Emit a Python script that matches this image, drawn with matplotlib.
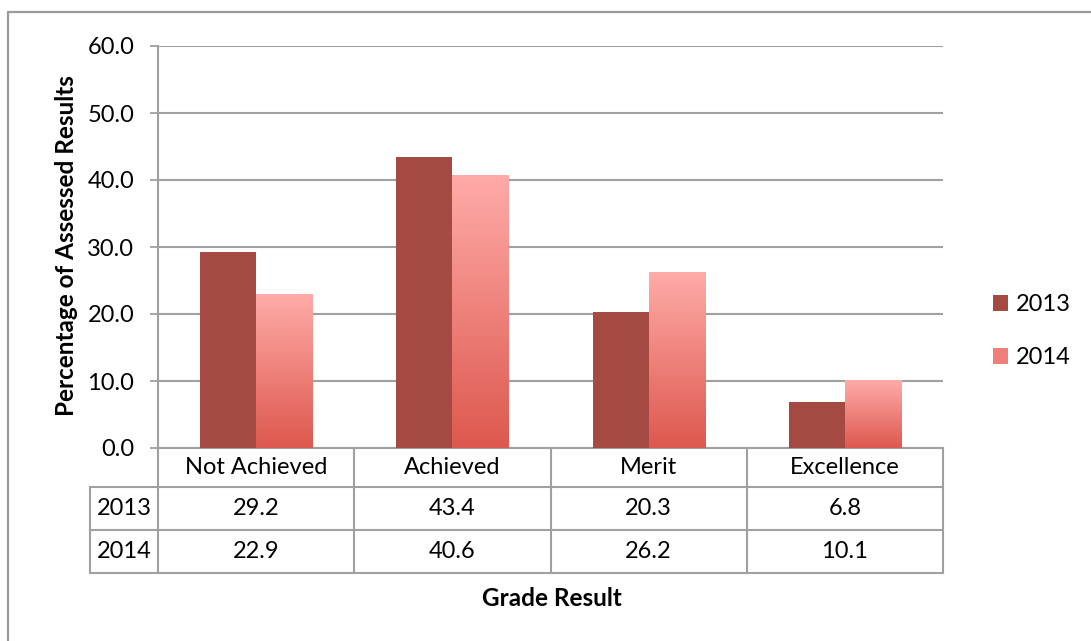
import matplotlib
matplotlib.use("Agg")
import matplotlib.pyplot as plt
import numpy as np
from matplotlib import transforms
from matplotlib.patches import Patch
from matplotlib.lines import Line2D

categories = ["Not Achieved", "Achieved", "Merit", "Excellence"]
years = ["2013", "2014"]
values_2013 = [29.2, 43.4, 20.3, 6.8]
values_2014 = [22.9, 40.6, 26.2, 10.1]
yticks = [0, 10, 20, 30, 40, 50, 60]

plt.rcParams['font.family'] = ['Lato', 'DejaVu Sans']

W, H = 1091, 641
fig = plt.figure(figsize=(W / 100, H / 100), dpi=100)
fig.patch.set_facecolor("white")

L, R, T, B = 158, 943, 46, 448
ax = fig.add_axes([L / W, 1 - B / H, (R - L) / W, (B - T) / H])

grid_col = "#A0A0A0"
c2013 = "#A54A43"
top2014 = np.array([255, 171, 168]) / 255
bot2014 = np.array([221, 88, 78]) / 255

fs = 17
n = len(categories)
x = np.arange(n) + 0.5
bw = 0.2857

ax.bar(x - bw / 2, values_2013, width=bw, color=c2013, zorder=3, linewidth=0)
bars14 = ax.bar(x + bw / 2, values_2014, width=bw, color="none", zorder=3, linewidth=0)
grad = np.linspace(0, 1, 256)[:, None]
img = (top2014[None, None, :] * (1 - grad[:, :, None]) + bot2014[None, None, :] * grad[:, :, None])
for rect in bars14:
    x0 = rect.get_x()
    ax.imshow(img, extent=[x0, x0 + rect.get_width(), 0, rect.get_height()],
              aspect='auto', zorder=3, interpolation='bilinear')

ax.set_xlim(0, n)
ax.set_ylim(0, 60)
ax.set_yticks(yticks)
ax.set_yticklabels([f"{v:.1f}" for v in yticks], fontsize=fs)
ax.set_xticks([])
ax.tick_params(axis='y', length=6, width=1.3, color=grid_col, pad=11)
for s in ["top", "right"]:
    ax.spines[s].set_visible(False)
for s in ["left", "bottom"]:
    ax.spines[s].set_color(grid_col)
    ax.spines[s].set_linewidth(1.5)
ax.yaxis.grid(True, color=grid_col, linewidth=1.5, zorder=0)
ax.set_axisbelow(True)

# data table
tr = transforms.blended_transform_factory(ax.transData, ax.transAxes)
ah = B - T
def yf(py):
    return (B - py) / ah
rows = [448, 487, 530, 573]
xlab = (90 - L) / ((R - L) / n)
lkw = dict(color=grid_col, linewidth=1.5, transform=tr, clip_on=False)
for py in rows[1:]:
    ax.add_line(Line2D([xlab, n], [yf(py), yf(py)], **lkw))
for i in range(n + 1):
    ax.add_line(Line2D([i, i], [yf(448), yf(573)], **lkw))
ax.add_line(Line2D([xlab, xlab], [yf(487), yf(573)], **lkw))

for i, c in enumerate(categories):
    ax.text(i + 0.5, yf((448 + 487) / 2), c, ha='center', va='center', fontsize=fs, transform=tr)
    ax.text(i + 0.5, yf((487 + 530) / 2), f"{values_2013[i]:.1f}", ha='center', va='center', fontsize=fs, transform=tr)
    ax.text(i + 0.5, yf((530 + 573) / 2), f"{values_2014[i]:.1f}", ha='center', va='center', fontsize=fs, transform=tr)
for j, yr in enumerate(years):
    ax.text(xlab / 2, yf((rows[j + 1] + rows[j + 2]) / 2), yr, ha='center', va='center', fontsize=fs, transform=tr)

fig.text(67 / W, 1 - 246 / H, "Percentage of Assessed Results", rotation=90, ha='center', va='center',
         fontsize=17.5, fontweight='bold')
fig.text(552 / W, 1 - 599 / H, "Grade Result", ha='center', va='center', fontsize=17.5, fontweight='bold')

handles = [Patch(facecolor=c2013, edgecolor='none'), Patch(facecolor="#EE8078", edgecolor='none')]
fig.legend(handles, years, loc='center left', bbox_to_anchor=(976 / W, 1 - 331 / H), frameon=False,
           fontsize=fs, handlelength=0.65, handleheight=0.65, handletextpad=0.35, labelspacing=1.35,
           borderpad=0.2)

fig.add_artist(Line2D([8 / W, 8 / W, 1.0], [0.0, 1 - 12 / H, 1 - 12 / H], color="#9A9A9A",
                      linewidth=1.6, transform=fig.transFigure))

fig.savefig("out.png", dpi=100, facecolor="white")
